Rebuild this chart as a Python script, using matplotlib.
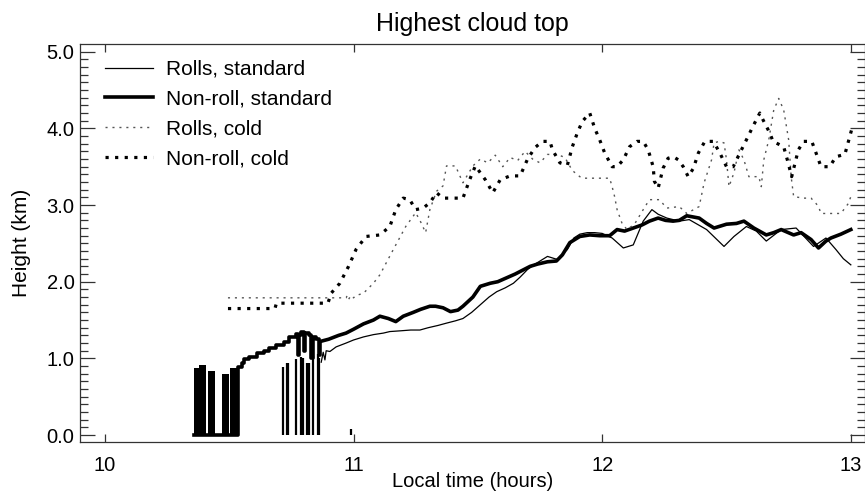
import matplotlib
matplotlib.use('Agg')
import matplotlib.pyplot as plt

plt.rcParams['font.family'] = ['Liberation Sans', 'DejaVu Sans']

# --- Rolls, standard: early spikes (drop back to 0) and then the continuous line
rs_spike_t = [10.717, 10.734, 10.738, 10.768, 10.790, 10.795, 10.814, 10.819, 10.835, 10.856, 10.861, 10.990]
rs_spike_h = [0.89, 0.94, 0.94, 0.99, 1.02, 1.00, 0.94, 0.94, 1.03, 1.06, 1.00, 0.08]
rs_t = [10.870, 10.878, 10.885, 10.890, 10.905, 10.930, 10.970, 11.000, 11.040, 11.080,
        11.120, 11.146, 11.190, 11.230, 11.267, 11.300, 11.340, 11.374, 11.410, 11.440,
        11.475, 11.510, 11.545, 11.576, 11.610, 11.643, 11.670, 11.700, 11.725, 11.750,
        11.780, 11.800, 11.820, 11.840, 11.860, 11.886, 11.910, 11.940, 11.970, 12.000,
        12.040, 12.085, 12.125, 12.165, 12.200, 12.225, 12.260, 12.310, 12.350, 12.420,
        12.490, 12.530, 12.580, 12.620, 12.660, 12.720, 12.780, 12.850, 12.900, 12.940,
        12.970, 13.000]
rs_h = [0.95, 1.08, 0.98, 1.10, 1.09, 1.15, 1.20, 1.24, 1.28, 1.31,
        1.33, 1.35, 1.36, 1.37, 1.37, 1.40, 1.43, 1.46, 1.49, 1.52,
        1.60, 1.70, 1.80, 1.87, 1.92, 1.98, 2.06, 2.16, 2.22, 2.27,
        2.33, 2.31, 2.29, 2.36, 2.42, 2.57, 2.62, 2.64, 2.64, 2.63,
        2.57, 2.44, 2.48, 2.79, 2.94, 2.88, 2.83, 2.79, 2.81, 2.68,
        2.46, 2.59, 2.72, 2.66, 2.53, 2.68, 2.70, 2.46, 2.57, 2.42,
        2.30, 2.22]

# --- Non-roll, standard: early on/off blocks, step rise, then continuous line
ns_block_t0 = [10.358, 10.380, 10.415, 10.470, 10.505]
ns_block_t1 = [10.377, 10.408, 10.443, 10.500, 10.537]
ns_block_h = [0.87, 0.91, 0.84, 0.80, 0.88]
ns_step_t = [10.358, 10.537, 10.550, 10.560, 10.580, 10.610, 10.640, 10.660, 10.690,
             10.720, 10.740, 10.770, 10.775, 10.780, 10.790, 10.800, 10.805, 10.820,
             10.830, 10.835, 10.850, 10.860, 10.865]
ns_step_h = [0.00, 0.89, 0.94, 0.99, 1.02, 1.07, 1.09, 1.13, 1.18,
             1.22, 1.28, 1.32, 1.05, 1.30, 1.35, 1.10, 1.33, 1.30,
             1.00, 1.28, 1.25, 1.05, 1.22]
ns_t = [10.865, 10.900, 10.940, 10.970, 11.000, 11.040, 11.080, 11.106, 11.140, 11.170,
        11.200, 11.240, 11.270, 11.307, 11.330, 11.360, 11.390, 11.420, 11.440, 11.480,
        11.510, 11.550, 11.580, 11.615, 11.650, 11.680, 11.710, 11.740, 11.780, 11.816,
        11.840, 11.870, 11.910, 11.950, 11.990, 12.030, 12.060, 12.090, 12.125, 12.160,
        12.190, 12.225, 12.255, 12.285, 12.310, 12.340, 12.390, 12.420, 12.450, 12.500,
        12.540, 12.570, 12.610, 12.660, 12.690, 12.720, 12.770, 12.800, 12.840, 12.870,
        12.900, 12.920, 12.960, 13.000]
ns_h = [1.22, 1.25, 1.30, 1.33, 1.38, 1.45, 1.50, 1.55, 1.52, 1.48,
        1.55, 1.60, 1.64, 1.68, 1.68, 1.66, 1.61, 1.63, 1.68, 1.80,
        1.94, 1.98, 2.00, 2.05, 2.10, 2.15, 2.20, 2.23, 2.26, 2.27,
        2.35, 2.51, 2.59, 2.61, 2.60, 2.60, 2.68, 2.66, 2.70, 2.74,
        2.79, 2.83, 2.80, 2.79, 2.80, 2.86, 2.83, 2.76, 2.70, 2.75,
        2.76, 2.79, 2.70, 2.61, 2.64, 2.68, 2.61, 2.64, 2.55, 2.44,
        2.53, 2.57, 2.62, 2.68]

# --- Rolls, cold
rc_t = [10.495, 10.897, 10.970, 10.975, 10.980, 10.990, 11.000, 11.010, 11.040, 11.080,
        11.106, 11.160, 11.210, 11.250, 11.270, 11.290, 11.307, 11.334, 11.360, 11.374,
        11.410, 11.440, 11.480, 11.510, 11.540, 11.570, 11.600, 11.630, 11.660, 11.690,
        11.720, 11.750, 11.780, 11.820, 11.850, 11.880, 11.910, 11.920, 12.030, 12.040,
        12.050, 12.060, 12.080, 12.100, 12.130, 12.165, 12.190, 12.230, 12.260, 12.310,
        12.340, 12.390, 12.410, 12.440, 12.450, 12.470, 12.490, 12.500, 12.510, 12.530,
        12.550, 12.570, 12.590, 12.630, 12.640, 12.650, 12.670, 12.690, 12.710, 12.730,
        12.750, 12.760, 12.770, 12.810, 12.840, 12.860, 12.870, 12.880, 12.960, 12.990,
        13.000]
rc_h = [1.79, 1.79, 1.79, 1.82, 1.77, 1.82, 1.79, 1.82, 1.85, 1.98,
        2.09, 2.42, 2.72, 2.90, 2.78, 2.64, 2.94, 3.18, 3.25, 3.51,
        3.51, 3.29, 3.51, 3.60, 3.55, 3.65, 3.50, 3.62, 3.58, 3.70,
        3.60, 3.55, 3.66, 3.66, 3.62, 3.45, 3.37, 3.35, 3.35, 3.24,
        3.11, 2.94, 2.76, 2.68, 2.75, 2.94, 3.07, 3.07, 2.96, 2.98,
        2.89, 2.98, 3.29, 3.59, 3.81, 3.83, 3.81, 3.59, 3.24, 3.42,
        3.72, 3.59, 3.37, 3.37, 3.24, 3.59, 3.85, 4.24, 4.39, 4.24,
        3.85, 3.37, 3.11, 3.09, 3.09, 3.02, 2.98, 2.89, 2.89, 3.02,
        3.11]

# --- Non-roll, cold
nc_t = [10.495, 10.684, 10.690, 10.897, 10.910, 10.945, 10.980, 11.010, 11.050, 11.106,
        11.146, 11.170, 11.200, 11.226, 11.250, 11.280, 11.307, 11.334, 11.360, 11.400,
        11.440, 11.467, 11.490, 11.530, 11.560, 11.590, 11.630, 11.670, 11.700, 11.730,
        11.760, 11.790, 11.800, 11.830, 11.860, 11.880, 11.900, 11.920, 11.950, 11.970,
        11.990, 12.010, 12.040, 12.060, 12.085, 12.110, 12.140, 12.165, 12.185, 12.205,
        12.210, 12.225, 12.245, 12.265, 12.286, 12.306, 12.326, 12.346, 12.367, 12.387,
        12.413, 12.447, 12.473, 12.500, 12.527, 12.554, 12.580, 12.607, 12.634, 12.647,
        12.674, 12.687, 12.730, 12.748, 12.762, 12.789, 12.810, 12.843, 12.860, 12.880,
        12.915, 12.940, 12.976, 13.003]
nc_h = [1.65, 1.65, 1.72, 1.72, 1.85, 1.98, 2.20, 2.42, 2.59, 2.61,
        2.72, 2.94, 3.09, 3.07, 2.94, 2.96, 3.03, 3.16, 3.09, 3.09,
        3.09, 3.33, 3.51, 3.33, 3.16, 3.33, 3.38, 3.38, 3.60, 3.75,
        3.83, 3.83, 3.72, 3.55, 3.52, 3.76, 3.94, 4.09, 4.20, 4.00,
        3.85, 3.68, 3.50, 3.50, 3.59, 3.76, 3.83, 3.83, 3.72, 3.50,
        3.31, 3.22, 3.48, 3.61, 3.63, 3.59, 3.50, 3.37, 3.48, 3.68,
        3.83, 3.83, 3.68, 3.50, 3.50, 3.68, 3.85, 4.03, 4.20, 4.11,
        3.94, 3.83, 3.76, 3.55, 3.37, 3.72, 3.83, 3.83, 3.68, 3.50,
        3.50, 3.63, 3.66, 3.98]

fig = plt.figure(figsize=(8.65, 4.96), dpi=100)
ax = fig.add_axes([0.0925, 0.1089, 0.9075, 0.8024])

# standard runs
ax.vlines(rs_spike_t, 0, rs_spike_h, color='black', lw=1.6)
ax.plot(rs_t, rs_h, color='black', lw=0.9, label='Rolls, standard')
ax.bar(ns_block_t0, ns_block_h,
       width=[b - a for a, b in zip(ns_block_t0, ns_block_t1)],
       align='edge', color='black', linewidth=0)
ax.plot(ns_step_t, ns_step_h, color='black', lw=2.6, drawstyle='steps-post')
ax.plot(ns_t, ns_h, color='black', lw=2.6, label='Non-roll, standard')

# cold runs
ax.plot(rc_t, rc_h, color='#555555', lw=1.0, linestyle=(0, (1.5, 3.5)), label='Rolls, cold')
ax.plot(nc_t, nc_h, color='black', lw=2.3, linestyle=(0, (1, 2)), label='Non-roll, cold')

ax.set_xlim(9.9, 13.057)
ax.set_ylim(-0.09, 5.10)
ax.set_xticks([10, 11, 12, 13])
ax.set_yticks([0, 1, 2, 3, 4, 5])
ax.set_yticks([i / 10 for i in range(0, 51)], minor=True)
ax.set_yticklabels(['0.0', '1.0', '2.0', '3.0', '4.0', '5.0'])

for s in ax.spines.values():
    s.set_color('#333333')
    s.set_linewidth(0.9)
ax.tick_params(axis='x', which='major', direction='in', length=5.5, width=0.9,
               top=True, color='#333333', labelsize=14.5, pad=10)
ax.tick_params(axis='y', which='major', direction='in', length=10.5, width=0.9,
               right=True, color='#333333', labelsize=14.5, pad=4)
ax.tick_params(axis='y', which='minor', direction='in', length=5.5, width=0.9,
               right=True, color='#333333')
ax.tick_params(axis='x', which='minor', bottom=False, top=False)

ax.set_title('Highest cloud top', fontsize=18, pad=9)
ax.set_xlabel('Local time (hours)', fontsize=14.5, labelpad=-2)
ax.set_ylabel('Height (km)', fontsize=15, labelpad=11)

ax.legend(loc='upper left', bbox_to_anchor=(0.032, 0.96), frameon=False,
          fontsize=15, handlelength=2.3, handletextpad=0.6, labelspacing=0.52,
          borderpad=0, borderaxespad=0)

fig.savefig('out.png', dpi=100)
